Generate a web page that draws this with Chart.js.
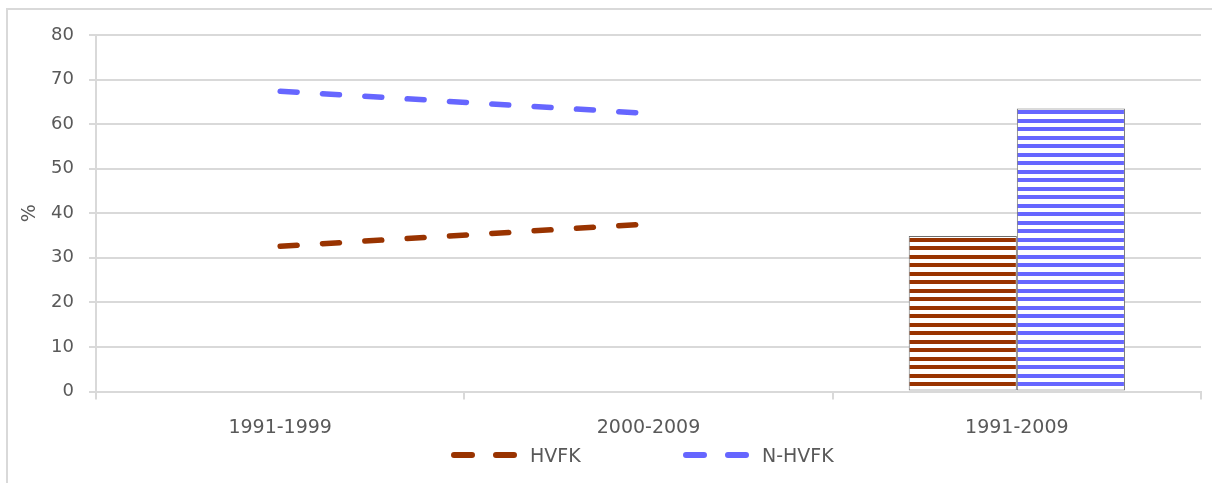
<!DOCTYPE html>
<html>
<head>
<meta charset="utf-8">
<script src="https://cdn.jsdelivr.net/npm/chart.js@4.4.1/dist/chart.umd.min.js"></script>
<style>
    html, body { margin: 0; padding: 0; background: #fff; }
    body { width: 1212px; height: 483px; overflow: hidden; position: relative; font-family: 'DejaVu Sans', sans-serif; }
    #frame { position: absolute; left: 6px; top: 8px; width: 1300px; height: 600px; border-left: 2px solid #d9d9d9; border-top: 2px solid #d9d9d9; }
    #wrap { position: absolute; left: 0; top: 0; width: 1212px; height: 483px; }
    #legend { position: absolute; left: 0; top: 443px; width: 1212px; height: 24px; }
    .item { position: absolute; top: 0; height: 24px; display: flex; align-items: center; color: #595959; font-size: 19px; white-space: nowrap; }
    .item canvas { margin-right: 12px; }
</style>
</head>
<body>
<div id="frame"></div>
<div id="wrap"><canvas id="chart"></canvas></div>
<div id="legend"></div>
<script>
const categories = ['1991-1999', '2000-2009', '1991-2009'];
const hvfkTrend = [32.6, 37.6, null];
const nhvfkTrend = [67.4, 62.4, null];
const hvfkTotal = [null, null, 34.9];
const nhvfkTotal = [null, null, 63.5];
const yTicks = [0, 10, 20, 30, 40, 50, 60, 70, 80];

const brown = '#993300';
const blue = '#6666ff';
const grey = '#595959';
const gridGrey = '#d9d9d9';

// horizontal stripes for the bars
function stripes(color) {
    const c = document.createElement('canvas');
    c.width = 4;
    c.height = 17;
    const g = c.getContext('2d');
    g.fillStyle = '#fff';
    g.fillRect(0, 0, 4, 17);
    g.fillStyle = color;
    g.fillRect(0, 0, 4, 4);
    g.fillRect(0, 8, 4, 4);
    return g.createPattern(c, 'repeat');
}

// small dashed sample for the legend
function dashSample(color) {
    const c = document.createElement('canvas');
    c.width = 67;
    c.height = 10;
    const g = c.getContext('2d');
    g.strokeStyle = color;
    g.lineWidth = 6;
    g.lineCap = 'round';
    g.beginPath();
    g.moveTo(3, 5); g.lineTo(21, 5);
    g.moveTo(45, 5); g.lineTo(63, 5);
    g.stroke();
    return c;
}

const font = { family: "'DejaVu Sans', sans-serif", size: 19 };

const chart = new Chart(document.getElementById('chart'), {
    data: {
        labels: categories,
        datasets: [
            {
                type: 'line', label: 'HVFK', data: hvfkTrend,
                borderColor: brown, backgroundColor: brown,
                borderWidth: 5.5, borderDash: [17, 25.4], borderCapStyle: 'round',
                pointRadius: 0, fill: false, tension: 0
            },
            {
                type: 'line', label: 'N-HVFK', data: nhvfkTrend,
                borderColor: blue, backgroundColor: blue,
                borderWidth: 5.5, borderDash: [17, 25.4], borderCapStyle: 'round',
                pointRadius: 0, fill: false, tension: 0
            },
            {
                type: 'bar', label: 'HVFK', data: hvfkTotal,
                backgroundColor: stripes(brown), borderColor: '#6e6e6e', borderWidth: 1,
                borderSkipped: false, barPercentage: 1, categoryPercentage: 0.587
            },
            {
                type: 'bar', label: 'N-HVFK', data: nhvfkTotal,
                backgroundColor: stripes(blue), borderColor: '#6e6e6e', borderWidth: 1,
                borderSkipped: false, barPercentage: 1, categoryPercentage: 0.587
            }
        ]
    },
    options: {
        responsive: true,
        maintainAspectRatio: false,
        animation: false,
        layout: { padding: { top: 35, right: 11, bottom: 0, left: 0 } },
        plugins: {
            legend: { display: false },
            tooltip: { enabled: false }
        },
        scales: {
            x: {
                ticks: { color: grey, font: font, padding: 17 },
                grid: { offset: true, drawOnChartArea: false, drawTicks: true, tickLength: 8, color: gridGrey, lineWidth: 2 },
                border: { display: true, color: gridGrey, width: 2 },
                afterFit: function(scale) { scale.height = 91.5; }
            },
            y: {
                min: 0,
                max: 80,
                afterBuildTicks: function(scale) { scale.ticks = yTicks.map(v => ({ value: v })); },
                ticks: { color: grey, font: { family: font.family, size: 18 }, padding: 15 },
                grid: { color: gridGrey, lineWidth: 2, tickLength: 7, drawTicks: true },
                border: { display: true, color: gridGrey, width: 2 },
                title: { display: true, text: '%', color: grey, font: { family: font.family, size: 19 }, padding: { top: 19, bottom: 0 } },
                afterFit: function(scale) { scale.width = 96; }
            }
        }
    }
});

// legend built from the line datasets
const legendBox = document.getElementById('legend');
const legendLeft = [451, 683];
chart.data.datasets.filter(d => d.type === 'line').forEach((d, i) => {
    const item = document.createElement('div');
    item.className = 'item';
    item.style.left = legendLeft[i] + 'px';
    item.appendChild(dashSample(d.borderColor));
    const span = document.createElement('span');
    span.textContent = d.label;
    item.appendChild(span);
    legendBox.appendChild(item);
});
</script>
</body>
</html>
